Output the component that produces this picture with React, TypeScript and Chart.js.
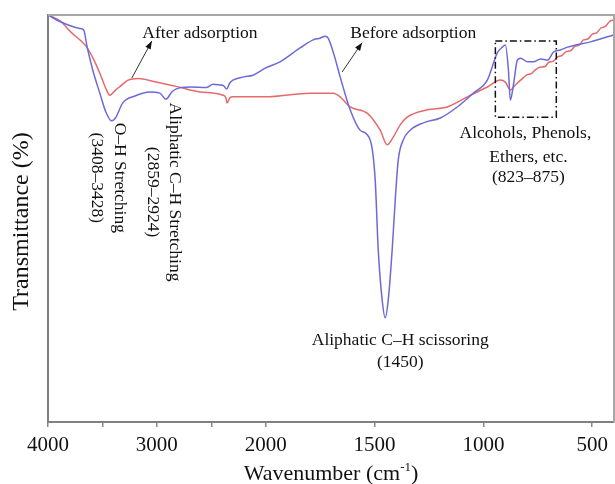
import React, { useEffect, useRef } from "react";
import { Chart, registerables } from "chart.js";

Chart.register(...registerables);

// FTIR spectra, wavenumber in cm⁻¹ and transmittance in relative units (0–100)
const beforeWavenumber = [
  4000, 3892, 3708, 3672, 3641, 3589, 3524, 3469, 3417, 3380, 3313, 3202, 3064, 2972, 2917,
  2862, 2825, 2697, 2543, 2485, 2420, 2385, 2359, 2330, 2301, 2200, 2117, 2000, 1934, 1842,
  1782, 1750, 1727, 1713, 1686, 1658, 1612, 1566, 1520, 1497, 1483, 1465, 1451, 1437, 1419,
  1405, 1391, 1368, 1336, 1276, 1198, 1120, 1046, 982, 936, 913, 899, 885, 876, 862, 844,
  829, 797, 770, 737, 705, 678, 646, 613, 508, 402,
];
const beforeTransmittance = [
  100, 98.4, 96.7, 96.3, 92.2, 86.5, 80.8, 76.2, 74.0, 74.7, 78.4, 80.1, 81.1, 80.8, 79.3,
  81.1, 81.8, 82.3, 82.2, 83.0, 82.8, 82.6, 81.8, 83.3, 84.0, 84.8, 85.2, 87.0, 88.5, 91.9,
  93.9, 94.3, 94.8, 94.3, 90.2, 84.8, 76.7, 71.7, 69.3, 59.5, 42.3, 30.0, 25.6, 30.0, 42.3,
  54.5, 64.4, 69.3, 71.7, 73.5, 74.7, 77.4, 80.8, 84.0, 90.7, 92.1, 92.6, 86.5, 79.1, 82.8, 88.9,
  89.4, 88.5, 88.5, 89.2, 88.9, 90.9, 91.4, 92.1, 93.4, 95.1,
];

const afterWavenumber = [
  4000, 3892, 3782, 3708, 3644, 3570, 3524, 3469, 3432, 3377, 3340, 3264, 3172, 3018, 2812,
  2604, 2393, 2365, 2356, 2330, 2301, 2000, 1796, 1690, 1658, 1612, 1534, 1474, 1442, 1414,
  1382, 1350, 1258, 1166, 1074, 982, 922, 899, 876, 853, 829, 800, 780, 760, 737, 715, 700,
  680, 659, 640, 620, 600, 580, 560, 540, 520, 500, 480, 460, 440, 420, 402,
];
const afterTransmittance = [
  100, 98.6, 95.6, 93.9, 92.1, 88.5, 85.7, 82.0, 80.3, 81.6, 82.4, 84.0, 84.4, 83.6, 82.4,
  81.1, 80.3, 79.6, 78.4, 79.6, 79.9, 79.9, 80.8, 80.8, 79.9, 77.4, 75.9, 71.7, 68.1, 70.0,
  73.0, 74.9, 76.7, 77.4, 79.9, 82.3, 84.0, 83.5, 81.6, 82.8, 84.0, 85.3, 85.6, 86.6, 87.2, 87.4, 88.4,
  88.6, 89.7, 90.0, 91.0, 91.2, 92.3, 92.6, 93.9, 94.1, 95.3, 95.6, 96.8, 97.2, 98.4, 98.8,
];

const xTickValues = [4000, 3500, 3000, 2500, 2000, 1500, 1000, 500];
const xTickLabels = ["4000", "", "3000", "", "2000", "1500", "1000", "500"];

const SERIF = '"Liberation Serif", "Times New Roman", "DejaVu Serif", serif';

// Usual FTIR axis: the range above 2000 cm⁻¹ is drawn at half scale
const toAxis = (w: number) => (w >= 2000 ? (4000 - w) / 2 : 1000 + (2000 - w));
const fromAxis = (p: number) => (p <= 1000 ? 4000 - 2 * p : 2000 - (p - 1000));

const toPoints = (ws: number[], ts: number[]) => ws.map((w, i) => ({ x: toAxis(w), y: ts[i] }));

function drawArrow(ctx: CanvasRenderingContext2D, x1: number, y1: number, x2: number, y2: number) {
  ctx.beginPath();
  ctx.moveTo(x1, y1);
  ctx.lineTo(x2, y2);
  ctx.stroke();
  const a = Math.atan2(y2 - y1, x2 - x1);
  const L = 8;
  const W = 3;
  ctx.beginPath();
  ctx.moveTo(x2, y2);
  ctx.lineTo(x2 - L * Math.cos(a) + W * Math.sin(a), y2 - L * Math.sin(a) - W * Math.cos(a));
  ctx.lineTo(x2 - L * Math.cos(a) - W * Math.sin(a), y2 - L * Math.sin(a) + W * Math.cos(a));
  ctx.closePath();
  ctx.fill();
}

const notesPlugin = {
  id: "ftirNotes",
  afterDraw(chart: any) {
    const { ctx, chartArea, scales } = chart;
    const xs = scales.x;
    const ys = scales.y;
    const px = (w: number) => xs.getPixelForValue(toAxis(w));
    const py = (t: number) => ys.getPixelForValue(t);
    ctx.save();

    // top and right frame
    ctx.strokeStyle = "#a8a8a8";
    ctx.lineWidth = 2;
    ctx.beginPath();
    ctx.moveTo(chartArea.left, chartArea.top);
    ctx.lineTo(chartArea.right, chartArea.top);
    ctx.lineTo(chartArea.right, chartArea.bottom);
    ctx.stroke();

    const noteFont = `17.5px ${SERIF}`;
    ctx.fillStyle = "#111";
    ctx.strokeStyle = "#333";
    ctx.lineWidth = 1;
    ctx.font = noteFont;
    ctx.textAlign = "center";
    ctx.textBaseline = "middle";

    // series labels with arrows
    ctx.fillText("After adsorption", px(2604), py(95.6));
    drawArrow(ctx, px(3230), py(84.5), px(3046), py(93.6));
    ctx.fillText("Before adsorption", px(1322), py(95.6));
    drawArrow(ctx, px(1649), py(86), px(1557), py(93.2));

    // vertical band labels
    const vertical = (text: string, w: number, t: number) => {
      ctx.save();
      ctx.translate(px(w), py(t));
      ctx.rotate(Math.PI / 2);
      ctx.fillText(text, 0, 0);
      ctx.restore();
    };
    vertical("O\u2013H Stretching", 3340, 60);
    vertical("(3408\u20133428)", 3551, 60);
    vertical("Aliphatic C\u2013H Stretching", 2834, 56.5);
    vertical("(2859\u20132924)", 3037, 56.5);

    ctx.fillText("Aliphatic C\u2013H scissoring", px(1382), py(20.1));
    ctx.fillText("(1450)", px(1382), py(14.7));

    ctx.fillText("Alcohols, Phenols,", px(807), py(71));
    ctx.fillText("Ethers, etc.", px(793), py(65.1));
    ctx.fillText("(823\u2013875)", px(793), py(60.2));

    // fingerprint region box
    ctx.strokeStyle = "#111";
    ctx.lineWidth = 1.5;
    ctx.setLineDash([7, 3, 1.5, 3]);
    const bx1 = px(945);
    const bx2 = px(665);
    const by1 = py(93.6);
    const by2 = py(74.9);
    ctx.strokeRect(bx1, by1, bx2 - bx1, by2 - by1);
    ctx.setLineDash([]);

    // axis titles
    ctx.fillStyle = "#111";
    ctx.font = `24px ${SERIF}`;
    ctx.save();
    ctx.translate(22, (chartArea.top + chartArea.bottom) / 2 + 3);
    ctx.rotate(-Math.PI / 2);
    ctx.fillText("Transmittance (%)", 0, 0);
    ctx.restore();

    const main = "Wavenumber (cm";
    const sup = "-1";
    const tail = ")";
    ctx.font = `22px ${SERIF}`;
    const wMain = ctx.measureText(main).width;
    const wTail = ctx.measureText(tail).width;
    ctx.font = `13px ${SERIF}`;
    const wSup = ctx.measureText(sup).width;
    const total = wMain + wSup + wTail;
    const cx = 331;
    const cy = 472;
    let x0 = cx - total / 2;
    ctx.textAlign = "left";
    ctx.textBaseline = "alphabetic";
    ctx.font = `22px ${SERIF}`;
    ctx.fillText(main, x0, cy + 8);
    x0 += wMain;
    ctx.font = `13px ${SERIF}`;
    ctx.fillText(sup, x0, cy - 1);
    x0 += wSup;
    ctx.font = `22px ${SERIF}`;
    ctx.fillText(tail, x0, cy + 8);

    ctx.restore();
  },
};

export default function App() {
  const canvasRef = useRef<HTMLCanvasElement | null>(null);

  useEffect(() => {
    const canvas = canvasRef.current;
    if (!canvas) return;
    const chart = new Chart(canvas, {
      type: "line",
      data: {
        datasets: [
          {
            label: "Before adsorption",
            data: toPoints(beforeWavenumber, beforeTransmittance),
            borderColor: "#6b6bd8",
            borderWidth: 1.5,
            pointRadius: 0,
            cubicInterpolationMode: "monotone",
          },
          {
            label: "After adsorption",
            data: toPoints(afterWavenumber, afterTransmittance),
            borderColor: "#e66a6a",
            borderWidth: 1.5,
            pointRadius: 0,
            cubicInterpolationMode: "monotone",
          },
        ],
      },
      options: {
        responsive: true,
        maintainAspectRatio: false,
        animation: false,
        layout: { padding: { top: 15, right: 1, left: 0, bottom: 0 } },
        plugins: { legend: { display: false }, tooltip: { enabled: false } },
        scales: {
          x: {
            type: "linear",
            min: 0,
            max: 2600,
            afterBuildTicks: (scale: any) => {
              scale.ticks = xTickValues.map((w) => ({ value: toAxis(w) }));
            },
            afterFit: (scale: any) => {
              scale.height = 62;
            },
            ticks: {
              autoSkip: false,
              maxRotation: 0,
              padding: 6,
              color: "#111",
              font: { family: SERIF, size: 21 },
              callback: (value: any) => {
                const w = Math.round(fromAxis(Number(value)));
                const i = xTickValues.indexOf(w);
                return i >= 0 ? xTickLabels[i] : "";
              },
            },
            grid: {
              drawOnChartArea: false,
              drawTicks: true,
              tickLength: 5,
              color: "#8a8a8a",
              lineWidth: 1.5,
            },
            border: { display: true, color: "#808080", width: 2 },
          },
          y: {
            min: 0,
            max: 100,
            afterFit: (scale: any) => {
              scale.width = 48;
            },
            ticks: { display: false },
            grid: { display: false },
            border: { display: true, color: "#808080", width: 2 },
          },
        },
      },
      plugins: [notesPlugin],
    });
    return () => chart.destroy();
  }, []);

  return (
    <div style={{ position: "fixed", left: 0, top: 0, width: 615, height: 484, background: "#fff" }}>
      <canvas ref={canvasRef} />
    </div>
  );
}
